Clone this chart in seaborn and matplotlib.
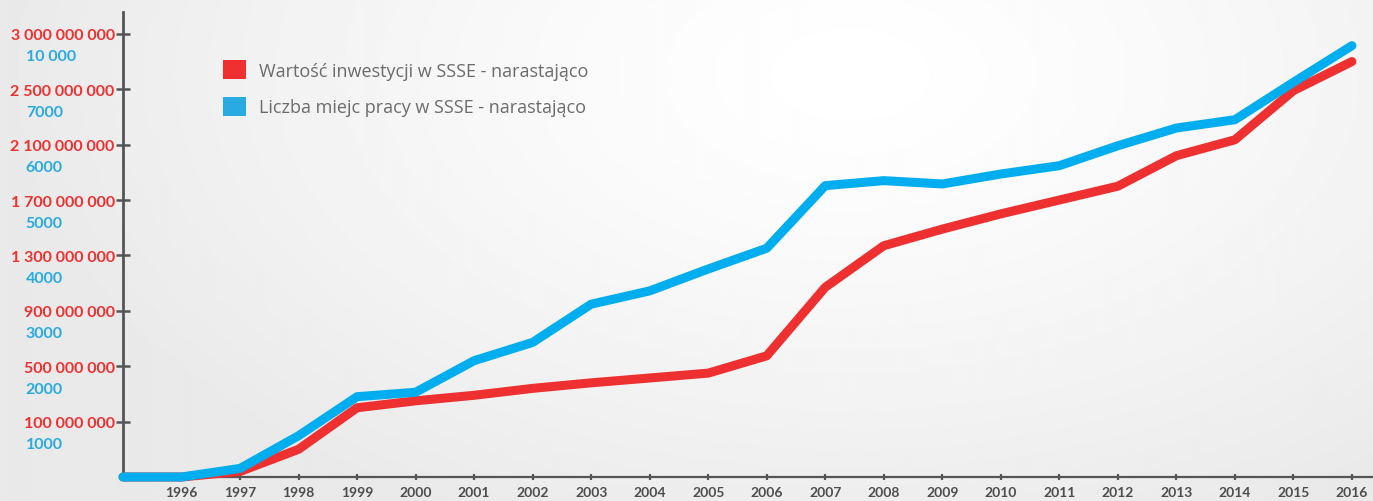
import numpy as np
import matplotlib
matplotlib.use("Agg")
import matplotlib.pyplot as plt
from matplotlib.patches import Patch
import seaborn as sns

# lata (pierwszy punkt leży na osi)
years = [1995, 1996, 1997, 1998, 1999, 2000, 2001, 2002, 2003, 2004, 2005,
         2006, 2007, 2008, 2009, 2010, 2011, 2012, 2013, 2014, 2015, 2016]
year_labels = [str(y) for y in range(1996, 2017)]

# wartość inwestycji narastająco [zł]
invest = [0, 0, 1.0e7, 5.0e7, 2.0e8, 2.5e8, 2.9e8, 3.4e8, 3.8e8, 4.15e8, 4.5e8,
          5.75e8, 1.07e9, 1.37e9, 1.49e9, 1.6e9, 1.7e9, 1.8e9, 2.02e9, 2.135e9,
          2.49e9, 2.75e9]

# liczba miejsc pracy narastająco
jobs = [0, 0, 250, 1125, 1830, 1910, 2480, 2810, 3500, 3740, 4135, 4510, 5640,
        5730, 5670, 5850, 6000, 6360, 6680, 6830, 8515, 10500]

red_ticks = [1e8, 5e8, 9e8, 1.3e9, 1.7e9, 2.1e9, 2.5e9, 3e9]
red_labels = ["100 000 000", "500 000 000", "900 000 000", "1 300 000 000",
              "1 700 000 000", "2 100 000 000", "2 500 000 000", "3 000 000 000"]
blue_ticks = [1000, 2000, 3000, 4000, 5000, 6000, 7000, 10000]
blue_labels = ["1000", "2000", "3000", "4000", "5000", "6000", "7000", "10 000"]

legend_labels = ["Wartość inwestycji w SSSE - narastająco",
                 "Liczba miejc pracy w SSSE - narastająco"]

RED = "#ee3130"
BLUE = "#00aeef"
BLUE_TXT = "#29abe2"
GREY = "#555555"


def step_scale(vals, pos):
    # nierówne odstępy wartości, równe odstępy podziałek
    vals = np.asarray(vals, float)
    pos = np.asarray(pos, float)
    v = np.concatenate([[vals[0] - (vals[1] - vals[0]) * 100], vals,
                        [vals[-1] + (vals[-1] - vals[-2]) * 100]])
    p = np.concatenate([[pos[0] - (pos[1] - pos[0]) * 100], pos,
                        [pos[-1] + (pos[-1] - pos[-2]) * 100]])
    return (lambda x: np.interp(x, v, p)), (lambda y: np.interp(y, p, v))


sns.set_style("white")
plt.rcParams["font.family"] = ["Lato", "DejaVu Sans"]

fig = plt.figure(figsize=(13.73, 5.02), dpi=100)

# tło z delikatnym gradientem
bg = fig.add_axes([0, 0, 1, 1], zorder=-5)
yy, xx = np.mgrid[0:1:251j, 0:1:687j]
d = np.sqrt(((xx - 0.62) * 1.6) ** 2 + (yy - 0.15) ** 2)
bg.imshow(1 - 0.085 * np.clip(d, 0, 1) ** 1.3, cmap="gray", vmin=0, vmax=1,
          aspect="auto", extent=[0, 1, 0, 1])
bg.axis("off")

ax = fig.add_axes([123 / 1373, 24 / 502, 1250 / 1373, 465.3 / 502])
ax.patch.set_alpha(0)

top = 8.4
red_fwd, red_inv = step_scale([0] + red_ticks, np.arange(len(red_ticks) + 1))
blue_pos = [0] + [i + 1 - 0.38 for i in range(len(blue_ticks))]
blue_fwd, blue_inv = step_scale([0] + blue_ticks, blue_pos)

ax.set_yscale("function", functions=(red_fwd, red_inv))
sns.lineplot(x=years, y=invest, ax=ax, color=RED, linewidth=6.5,
             clip_on=False, zorder=3, legend=False)
ax.set_ylim(0, float(red_inv(top)))
ax.set_xlim(1995, 2016.36)

ax2 = ax.twinx()
ax2.set_yscale("function", functions=(blue_fwd, blue_inv))
sns.lineplot(x=years, y=jobs, ax=ax2, color=BLUE, linewidth=6.5,
             clip_on=False, zorder=3, legend=False)
ax2.set_ylim(0, float(blue_inv(top)))
ax2.set_xlim(1995, 2016.36)

for s in ["top", "right"]:
    ax.spines[s].set_visible(False)
for s in ax2.spines.values():
    s.set_visible(False)
ax.spines["left"].set_color(GREY)
ax.spines["left"].set_linewidth(2.0)
ax.spines["bottom"].set_color(GREY)
ax.spines["bottom"].set_linewidth(1.6)

ax.set_yticks(red_ticks)
ax.set_yticklabels(red_labels)
ax.tick_params(axis="y", direction="inout", length=10, width=1.8, color=GREY,
               pad=1, labelsize=11.5, labelcolor=RED, left=True)
for t in ax.get_yticklabels():
    t.set_fontweight("bold")

ax2.set_yticks(blue_ticks)
ax2.set_yticklabels(blue_labels)
ax2.tick_params(axis="y", left=True, right=False, labelleft=True,
                labelright=False, length=0, pad=70, labelsize=11.5,
                labelcolor=BLUE_TXT)
for t in ax2.get_yticklabels():
    t.set_fontweight("bold")
    t.set_horizontalalignment("left")
ax2.set_ylabel("")

ax.set_xticks(range(1996, 2017))
ax.set_xticklabels(year_labels)
ax.tick_params(axis="x", direction="inout", length=4.5, width=1.6, color=GREY,
               pad=4, labelsize=10, labelcolor="#4d4d4d", bottom=True)
for t in ax.get_xticklabels():
    t.set_fontweight("bold")
ax.xaxis.get_major_ticks()[0].tick1line.set_visible(False)
ax.set_xlabel("")
ax.set_ylabel("")

handles = [Patch(facecolor=RED, edgecolor="none"),
           Patch(facecolor=BLUE_TXT, edgecolor="none")]
fig.legend(handles, legend_labels, loc="upper left",
           bbox_to_anchor=(223 / 1373, 1 - 61 / 502), frameon=False,
           borderpad=0, borderaxespad=0, handlelength=1.25, handleheight=1.25,
           handletextpad=0.75, labelspacing=0.95,
           prop={"family": ["Open Sans", "DejaVu Sans"], "size": 13},
           labelcolor="#6b6b6b")

fig.savefig("out.png", dpi=100)
